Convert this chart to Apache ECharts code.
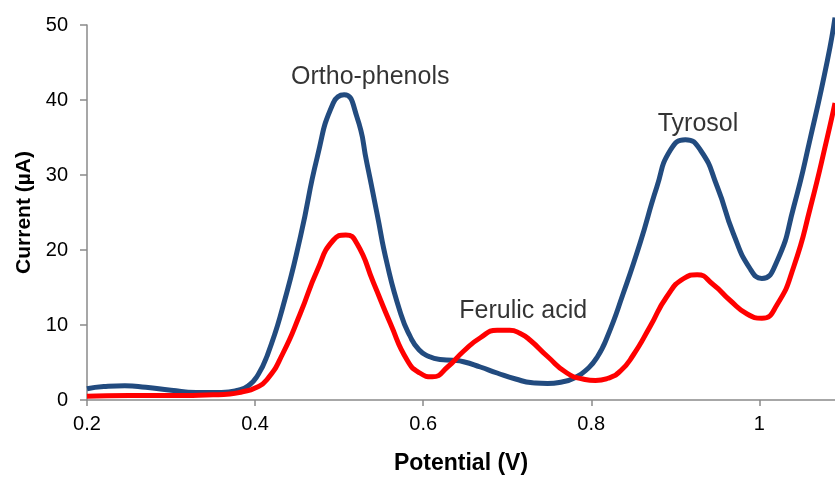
<!DOCTYPE html>
<html>
<head>
<meta charset="utf-8">
<script src="https://cdn.jsdelivr.net/npm/echarts@6/dist/echarts.min.js"></script>
<style>html,body{margin:0;padding:0;background:#fff;}#c{width:835px;height:477px;}</style>
</head>
<body>
<div id="c"></div>
<script>
const xTicks = [0.2, 0.4, 0.6, 0.8, 1];
const yTicks = [0, 10, 20, 30, 40, 50];

const bluePotential = [0.20,0.22,0.245,0.27,0.30,0.33,0.36,0.38,0.392,0.402,0.414,0.433,0.454,0.474,0.493,0.506,0.521,0.533,0.545,0.557,0.573,0.584,0.595,0.607,0.62,0.635,0.648,0.668,0.688,0.71,0.73,0.748,0.765,0.781,0.795,0.807,0.819,0.838,0.858,0.878,0.894,0.912,0.93,0.95,0.969,0.989,1.003,1.021,1.041,1.061,1.081,1.09];
const blueCurrent   = [1.5,1.8,1.9,1.7,1.3,1.0,1.0,1.3,1.9,3.1,5.8,12.4,21.8,32.4,39.6,40.7,37.8,31.6,24.9,18.2,11.6,8.6,6.7,5.8,5.4,5.3,5.1,4.4,3.6,2.8,2.3,2.2,2.4,3.0,4.1,5.7,8.4,14.2,20.9,28.4,33.3,34.7,33.3,28.4,22.2,17.5,16.2,18.5,25.8,35.1,45.3,51];

const redPotential = [0.20,0.25,0.30,0.35,0.37,0.385,0.40,0.414,0.433,0.454,0.474,0.493,0.508,0.521,0.541,0.561,0.581,0.596,0.611,0.629,0.648,0.668,0.688,0.703,0.715,0.727,0.748,0.771,0.79,0.805,0.82,0.835,0.85,0.87,0.89,0.91,0.926,0.945,0.965,0.985,1.003,1.021,1.041,1.061,1.081,1.09];
const redCurrent   = [0.5,0.6,0.6,0.7,0.8,1.1,1.6,2.7,6.2,11.6,17.3,21.3,22.0,20.9,15.6,10.2,5.3,3.6,3.1,4.4,6.5,8.3,9.3,9.3,8.9,8.0,5.8,3.6,2.8,2.6,2.9,3.9,6.0,9.8,13.8,16.2,16.7,15.4,13.3,11.5,10.9,12.7,17.8,25.8,35.1,39.6];

const peakNames = ['Ortho-phenols', 'Ferulic acid', 'Tyrosol'];
const peakX = [0.537, 0.719, 0.927];
const peakY = [43.1, 11.9, 36.8];

const zip = (xs, ys) => xs.map((x, i) => [x, ys[i]]);
const font = '"Liberation Sans", Arial, sans-serif';
const axisGray = '#8a8a8a';

const chart = echarts.init(document.getElementById('c'), null, {renderer: 'canvas'});
chart.setOption({
  animation: false,
  backgroundColor: '#ffffff',
  grid: {left: 87, right: 0, top: 25, bottom: 77, containLabel: false, outerBoundsMode: 'none'},
  xAxis: {
    type: 'value', min: 0.2, max: 1.09, interval: 0.2,
    name: 'Potential (V)', nameLocation: 'middle', nameGap: 52,
    nameTextStyle: {fontFamily: font, fontSize: 23, fontWeight: 'bold', color: '#000'},
    axisLine: {show: true, lineStyle: {color: axisGray, width: 1.5}},
    axisTick: {show: true, length: 6, lineStyle: {color: axisGray, width: 1.5}},
    axisLabel: {fontFamily: font, fontSize: 20, color: '#000', margin: 14, showMaxLabel: false,
      formatter: v => { const r = Math.round(v * 10) / 10; return xTicks.includes(r) ? String(r) : ''; }},
    splitLine: {show: false}
  },
  yAxis: {
    type: 'value', min: 0, max: 50, interval: 10,
    name: 'Current (µA)', nameLocation: 'middle', nameGap: 52,
    nameTextStyle: {fontFamily: font, fontSize: 21, fontWeight: 'bold', color: '#000'},
    axisLine: {show: true, lineStyle: {color: axisGray, width: 1.5}},
    axisTick: {show: true, length: 7, lineStyle: {color: axisGray, width: 1.5}},
    axisLabel: {fontFamily: font, fontSize: 20, color: '#000', margin: 19,
      formatter: v => yTicks.includes(v) ? String(v) : ''},
    splitLine: {show: false}
  },
  series: [
    {
      type: 'line', data: zip(bluePotential, blueCurrent), smooth: 0.55, symbol: 'none',
      lineStyle: {color: '#224b7f', width: 5}, z: 3, clip: false
    },
    {
      type: 'line', data: zip(redPotential, redCurrent), smooth: 0.55, symbol: 'none',
      lineStyle: {color: '#ff0000', width: 5}, z: 4, clip: false
    },
    {
      type: 'scatter', symbolSize: 0, z: 5,
      data: peakNames.map((n, i) => ({name: n, value: [peakX[i], peakY[i]]})),
      label: {show: true, position: 'inside', formatter: p => p.name,
        fontFamily: font, fontSize: 25, color: '#000'},
      silent: true
    }
  ]
});
</script>
</body>
</html>
